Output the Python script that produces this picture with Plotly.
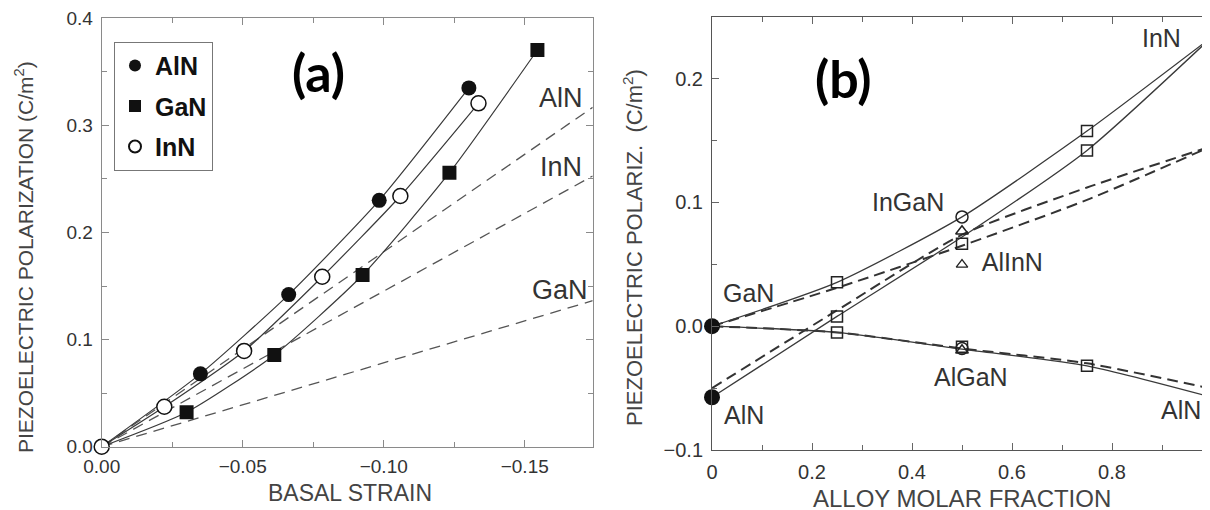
import plotly.graph_objects as go

# ---------------- data: panel (a) ----------------
strain_aln = [0.0, -0.035, -0.0663, -0.0984, -0.1302]
pol_aln = [0.0, 0.068, 0.142, 0.230, 0.335]
strain_gan = [0.0, -0.0301, -0.0612, -0.0925, -0.1233, -0.1545]
pol_gan = [0.0, 0.0321, 0.0856, 0.1603, 0.2558, 0.3704]
strain_inn = [0.0, -0.0222, -0.0505, -0.0782, -0.1059, -0.1336]
pol_inn = [0.0, 0.0373, 0.0894, 0.1587, 0.2341, 0.3206]
# linear (dashed) approximations
lin_strain = [0.0, -0.1741]
lin_aln = [0.0, 0.3169]
lin_inn = [0.0, 0.2528]
lin_gan = [0.0, 0.1363]

# ---------------- data: panel (b) ----------------
frac = [0.0, 0.25, 0.5, 0.75, 1.0]
ingan_solid = [0.0, 0.0354, 0.0883, 0.1576, 0.2337]
alinn_solid = [-0.0574, 0.0079, 0.072, 0.142, 0.2337]
algan_solid = [0.0, -0.005, -0.0185, -0.032, -0.0574]
ingan_dash = [0.0, 0.031, 0.065, 0.102, 0.1455]
alinn_dash = [-0.050, 0.0128, 0.074, 0.112, 0.1455]
algan_dash = [0.0, -0.005, -0.018, -0.030, -0.0506]

sq_x = [0.25, 0.75, 0.25, 0.75, 0.5, 0.25, 0.5, 0.75]
sq_y = [0.0354, 0.1576, 0.0079, 0.142, 0.0665, -0.005, -0.0165, -0.032]
circ_x = [0.5, 0.5]
circ_y = [0.0883, -0.018]
tri_x = [0.5, 0.5]
tri_y = [0.0767, -0.0195]
end_x = [0.0, 0.0, 1.0, 1.0]
end_y = [0.0, -0.0574, 0.2337, -0.0574]
alinn_label_x = [0.5]
alinn_label_y = [0.0497]

# figure is a bit wider than the window; the page's body margin (8px) is compensated
W, H = 1230, 510
OFF = 8
def px(x):
    return (x - OFF) / W
def py(y):
    return 1 - (y - OFF) / H

FONT = "Liberation Sans, Arial, Helvetica, sans-serif"
LINE = "#3a3a3a"
TXT = "#333333"

fig = go.Figure()

# ---- panel (a) traces ----
for xs, ys in [(lin_strain, lin_aln), (lin_strain, lin_inn), (lin_strain, lin_gan)]:
    fig.add_trace(go.Scatter(x=xs, y=ys, mode="lines", showlegend=False,
                             line=dict(color="#555555", width=1.3, dash="11px,7px"),
                             xaxis="x", yaxis="y", hoverinfo="skip"))
for xs, ys in [(strain_aln, pol_aln), (strain_gan, pol_gan), (strain_inn, pol_inn)]:
    fig.add_trace(go.Scatter(x=xs, y=ys, mode="lines", showlegend=False,
                             line=dict(color=LINE, width=1.2, shape="spline", smoothing=0.6),
                             xaxis="x", yaxis="y"))
fig.add_trace(go.Scatter(x=strain_aln[1:], y=pol_aln[1:], mode="markers", name="AlN",
                         marker=dict(symbol="circle", size=15, color="#111111"),
                         xaxis="x", yaxis="y", legendgroup="a"))
fig.add_trace(go.Scatter(x=strain_gan[1:], y=pol_gan[1:], mode="markers", name="GaN",
                         marker=dict(symbol="square", size=14, color="#111111"),
                         xaxis="x", yaxis="y", legendgroup="b"))
fig.add_trace(go.Scatter(x=strain_inn, y=pol_inn, mode="markers", name="InN", cliponaxis=False,
                         marker=dict(symbol="circle", size=15, color="white",
                                     line=dict(color="#111111", width=1.5)),
                         xaxis="x", yaxis="y", legendgroup="c"))

# ---- panel (b) traces ----
for ys in [ingan_dash, alinn_dash, algan_dash]:
    fig.add_trace(go.Scatter(x=frac, y=ys, mode="lines", showlegend=False,
                             line=dict(color="#333333", width=2, dash="11px,6px", shape="spline", smoothing=0.6),
                             xaxis="x2", yaxis="y2"))
for ys in [ingan_solid, alinn_solid, algan_solid]:
    fig.add_trace(go.Scatter(x=frac, y=ys, mode="lines", showlegend=False,
                             line=dict(color=LINE, width=1.3, shape="spline", smoothing=0.6),
                             xaxis="x2", yaxis="y2"))
fig.add_trace(go.Scatter(x=sq_x, y=sq_y, mode="markers", showlegend=False,
                         marker=dict(symbol="square-open", size=11, color="#222222", line=dict(width=1.5)),
                         xaxis="x2", yaxis="y2"))
fig.add_trace(go.Scatter(x=circ_x, y=circ_y, mode="markers", showlegend=False,
                         marker=dict(symbol="circle-open", size=12, color="#222222", line=dict(width=1.5)),
                         xaxis="x2", yaxis="y2"))
fig.add_trace(go.Scatter(x=tri_x, y=tri_y, mode="markers", showlegend=False,
                         marker=dict(symbol="triangle-up-open", size=11, color="#222222", line=dict(width=1.5)),
                         xaxis="x2", yaxis="y2"))
fig.add_trace(go.Scatter(x=alinn_label_x, y=alinn_label_y, mode="markers+text", showlegend=False,
                         text=["  AlInN"], textposition="middle right",
                         textfont=dict(family=FONT, size=25, color=TXT),
                         marker=dict(symbol="triangle-up-open", size=10, color="#222222", line=dict(width=1.3)),
                         xaxis="x2", yaxis="y2"))
fig.add_trace(go.Scatter(x=end_x, y=end_y, mode="markers", showlegend=False, cliponaxis=False,
                         marker=dict(symbol="circle", size=16, color="#111111"),
                         xaxis="x2", yaxis="y2"))

axis_common = dict(showline=True, linecolor="#8a8a8a", linewidth=1, mirror="allticks",
                   ticks="inside", ticklen=7, tickcolor="#8a8a8a", tickwidth=1,
                   showgrid=False, zeroline=False, automargin=False,
                   ticklabeloverflow="allow",
                   tickfont=dict(family=FONT, size=19, color=TXT))
axis_b = {**axis_common, "linecolor": "#555555", "tickcolor": "#666666",
          "tickfont": dict(family=FONT, size=20, color=TXT)}

fig.update_layout(
    width=W, height=H, autosize=False,
    margin=dict(l=0, r=0, t=0, b=0, pad=0),
    paper_bgcolor="white", plot_bgcolor="white",
    showlegend=True,
    legend=dict(x=px(114), y=py(41.7), xanchor="left", yanchor="top",
                bordercolor="#777777", borderwidth=1, bgcolor="white",
                font=dict(family=FONT, size=25, color="#111111", weight="bold"),
                tracegroupgap=5, itemsizing="constant", traceorder="grouped",
                itemwidth=30),
    xaxis=dict(domain=[px(101.7), px(592.7)], range=[0, -0.1741], anchor="y",
               tickvals=[0, -0.05, -0.10, -0.15], tickformat=".2f",
               minor=dict(dtick=0.025, ticks="inside", ticklen=5, tickcolor="#8a8a8a"),
               ticklabelstandoff=2, **axis_common),
    yaxis=dict(domain=[py(446.7), py(18.3)], range=[0, 0.4], anchor="x",
               dtick=0.1, tickformat=".1f",
               minor=dict(dtick=0.05, ticks="inside", ticklen=5, tickcolor="#8a8a8a"),
               ticklabelstandoff=4, **axis_common),
    xaxis2=dict(domain=[px(712.0), px(1212.0)], range=[0, 1.0], anchor="y2",
                tickvals=[0, 0.2, 0.4, 0.6, 0.8, 1.0], ticktext=["0", "0.2", "0.4", "0.6", "0.8", "1"],
                minor=dict(dtick=0.1, ticks="inside", ticklen=5, tickcolor="#666666"),
                ticklabelstandoff=4, **axis_b),
    yaxis2=dict(domain=[py(450), py(16.7)], range=[-0.1, 0.25], anchor="x2",
                tickvals=[-0.1, 0.0, 0.1, 0.2], tickformat=".1f",
                minor=dict(dtick=0.05, ticks="inside", ticklen=5, tickcolor="#666666"),
                ticklabelstandoff=4, **axis_b),
)

def ann(text, x, y, size, color=TXT, angle=0, family=FONT, xanchor="center", **kw):
    fig.add_annotation(text=text, x=px(x), y=py(y), xref="paper", yref="paper",
                       showarrow=False, textangle=angle, xanchor=xanchor, yanchor="middle",
                       font=dict(family=family, size=size, color=color, **kw))

# axis titles
ann("PIEZOELECTRIC POLARIZATION (C/m<sup>2</sup>)", 24, 257, 21, color="#444444", angle=-90)
ann("BASAL STRAIN", 350, 493, 23, color="#444444")
ann("PIEZOELECTRIC POLARIZ.  (C/m<sup>2</sup>)", 633, 248, 22, color="#444444", angle=-90)
ann("ALLOY MOLAR FRACTION", 962, 498, 24, color="#444444")

# panel labels
ann("(a)", 318.5, 72, 52, color="#000000", family="Lato, Open Sans, sans-serif", weight="bold")
ann("(b)", 843, 78, 52, color="#000000", family="Lato, Open Sans, sans-serif", weight="bold")

# curve labels, panel (a)
ann("AlN", 561, 98, 27)
ann("InN", 561, 167, 27)
ann("GaN", 560, 290, 27)

# curve labels, panel (b)
ann("InN", 1161, 38, 25)
ann("InGaN", 908, 202, 25)
ann("GaN", 748, 293, 25)
ann("AlGaN", 971, 377, 25)
ann("AlN", 744, 415, 25)
ann("AlN", 1181, 410, 25)

fig.write_html("out.html")
